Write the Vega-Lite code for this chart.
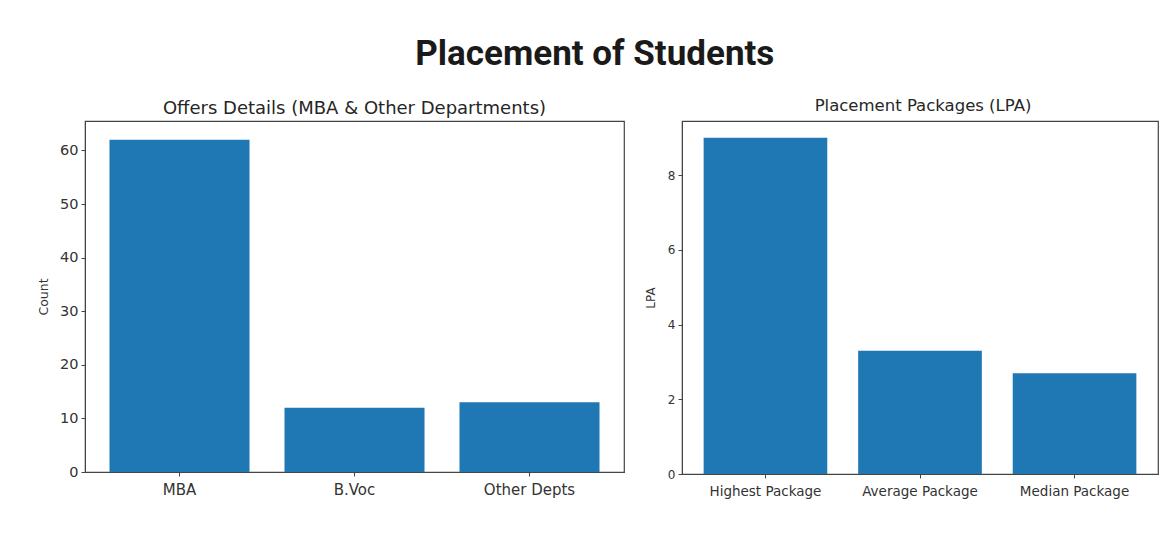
{
  "$schema": "https://vega.github.io/schema/vega-lite/v6.json",
  "background": "white",
  "padding": {"left": 36, "top": 36, "right": 5, "bottom": 5},
  "title": {
    "text": "Placement of Students",
    "font": "Roboto",
    "fontSize": 35,
    "fontWeight": "bold",
    "color": "#1a1a1a",
    "anchor": "middle",
    "dx": -3,
    "offset": 25
  },
  "config": {
    "font": "DejaVu Sans",
    "view": {"stroke": "#444444", "strokeWidth": 1.2},
    "axis": {
      "domainColor": "#444444",
      "tickColor": "#444444",
      "labelColor": "#333333",
      "titleColor": "#333333",
      "grid": false,
      "tickSize": 4,
      "labelPadding": 3,
      "titleFontWeight": "normal"
    },
    "title": {"fontWeight": "normal", "color": "#262626", "anchor": "middle"}
  },
  "datasets": {
    "offers": [
      {"Department": "MBA", "Count": 62},
      {"Department": "B.Voc", "Count": 12},
      {"Department": "Other Depts", "Count": 13}
    ],
    "packages": [
      {"Package": "Highest Package", "LPA": 9.0},
      {"Package": "Average Package", "LPA": 3.3},
      {"Package": "Median Package", "LPA": 2.7}
    ]
  },
  "spacing": 18,
  "hconcat": [
    {
      "width": 539,
      "height": 351,
      "title": {"text": "Offers Details (MBA & Other Departments)", "fontSize": 18, "offset": 3},
      "data": {"name": "offers"},
      "mark": {"type": "bar", "color": "#1f77b4"},
      "encoding": {
        "x": {
          "field": "Department",
          "type": "nominal",
          "sort": null,
          "scale": {"paddingInner": 0.2, "paddingOuter": 0.14},
          "axis": {"title": null, "labelAngle": 0, "labelFontSize": 15, "labelPadding": 6}
        },
        "y": {
          "field": "Count",
          "type": "quantitative",
          "scale": {"domain": [0, 65.5], "nice": false},
          "axis": {
            "title": "Count",
            "values": [0, 10, 20, 30, 40, 50, 60],
            "labelFontSize": 14.5,
            "titleFontSize": 12.5,
            "titlePadding": 9
          }
        }
      }
    },
    {
      "width": 476,
      "height": 353,
      "title": {"text": "Placement Packages (LPA)", "fontSize": 16.5, "offset": 7, "dx": 3},
      "data": {"name": "packages"},
      "mark": {"type": "bar", "color": "#1f77b4"},
      "encoding": {
        "x": {
          "field": "Package",
          "type": "nominal",
          "sort": null,
          "scale": {"paddingInner": 0.2, "paddingOuter": 0.14},
          "axis": {"title": null, "labelAngle": 0, "labelFontSize": 13.5, "labelPadding": 6}
        },
        "y": {
          "field": "LPA",
          "type": "quantitative",
          "scale": {"domain": [0, 9.45], "nice": false},
          "axis": {
            "title": "LPA",
            "values": [0, 2, 4, 6, 8],
            "labelFontSize": 12,
            "titleFontSize": 12,
            "titlePadding": 10
          }
        }
      }
    }
  ]
}
